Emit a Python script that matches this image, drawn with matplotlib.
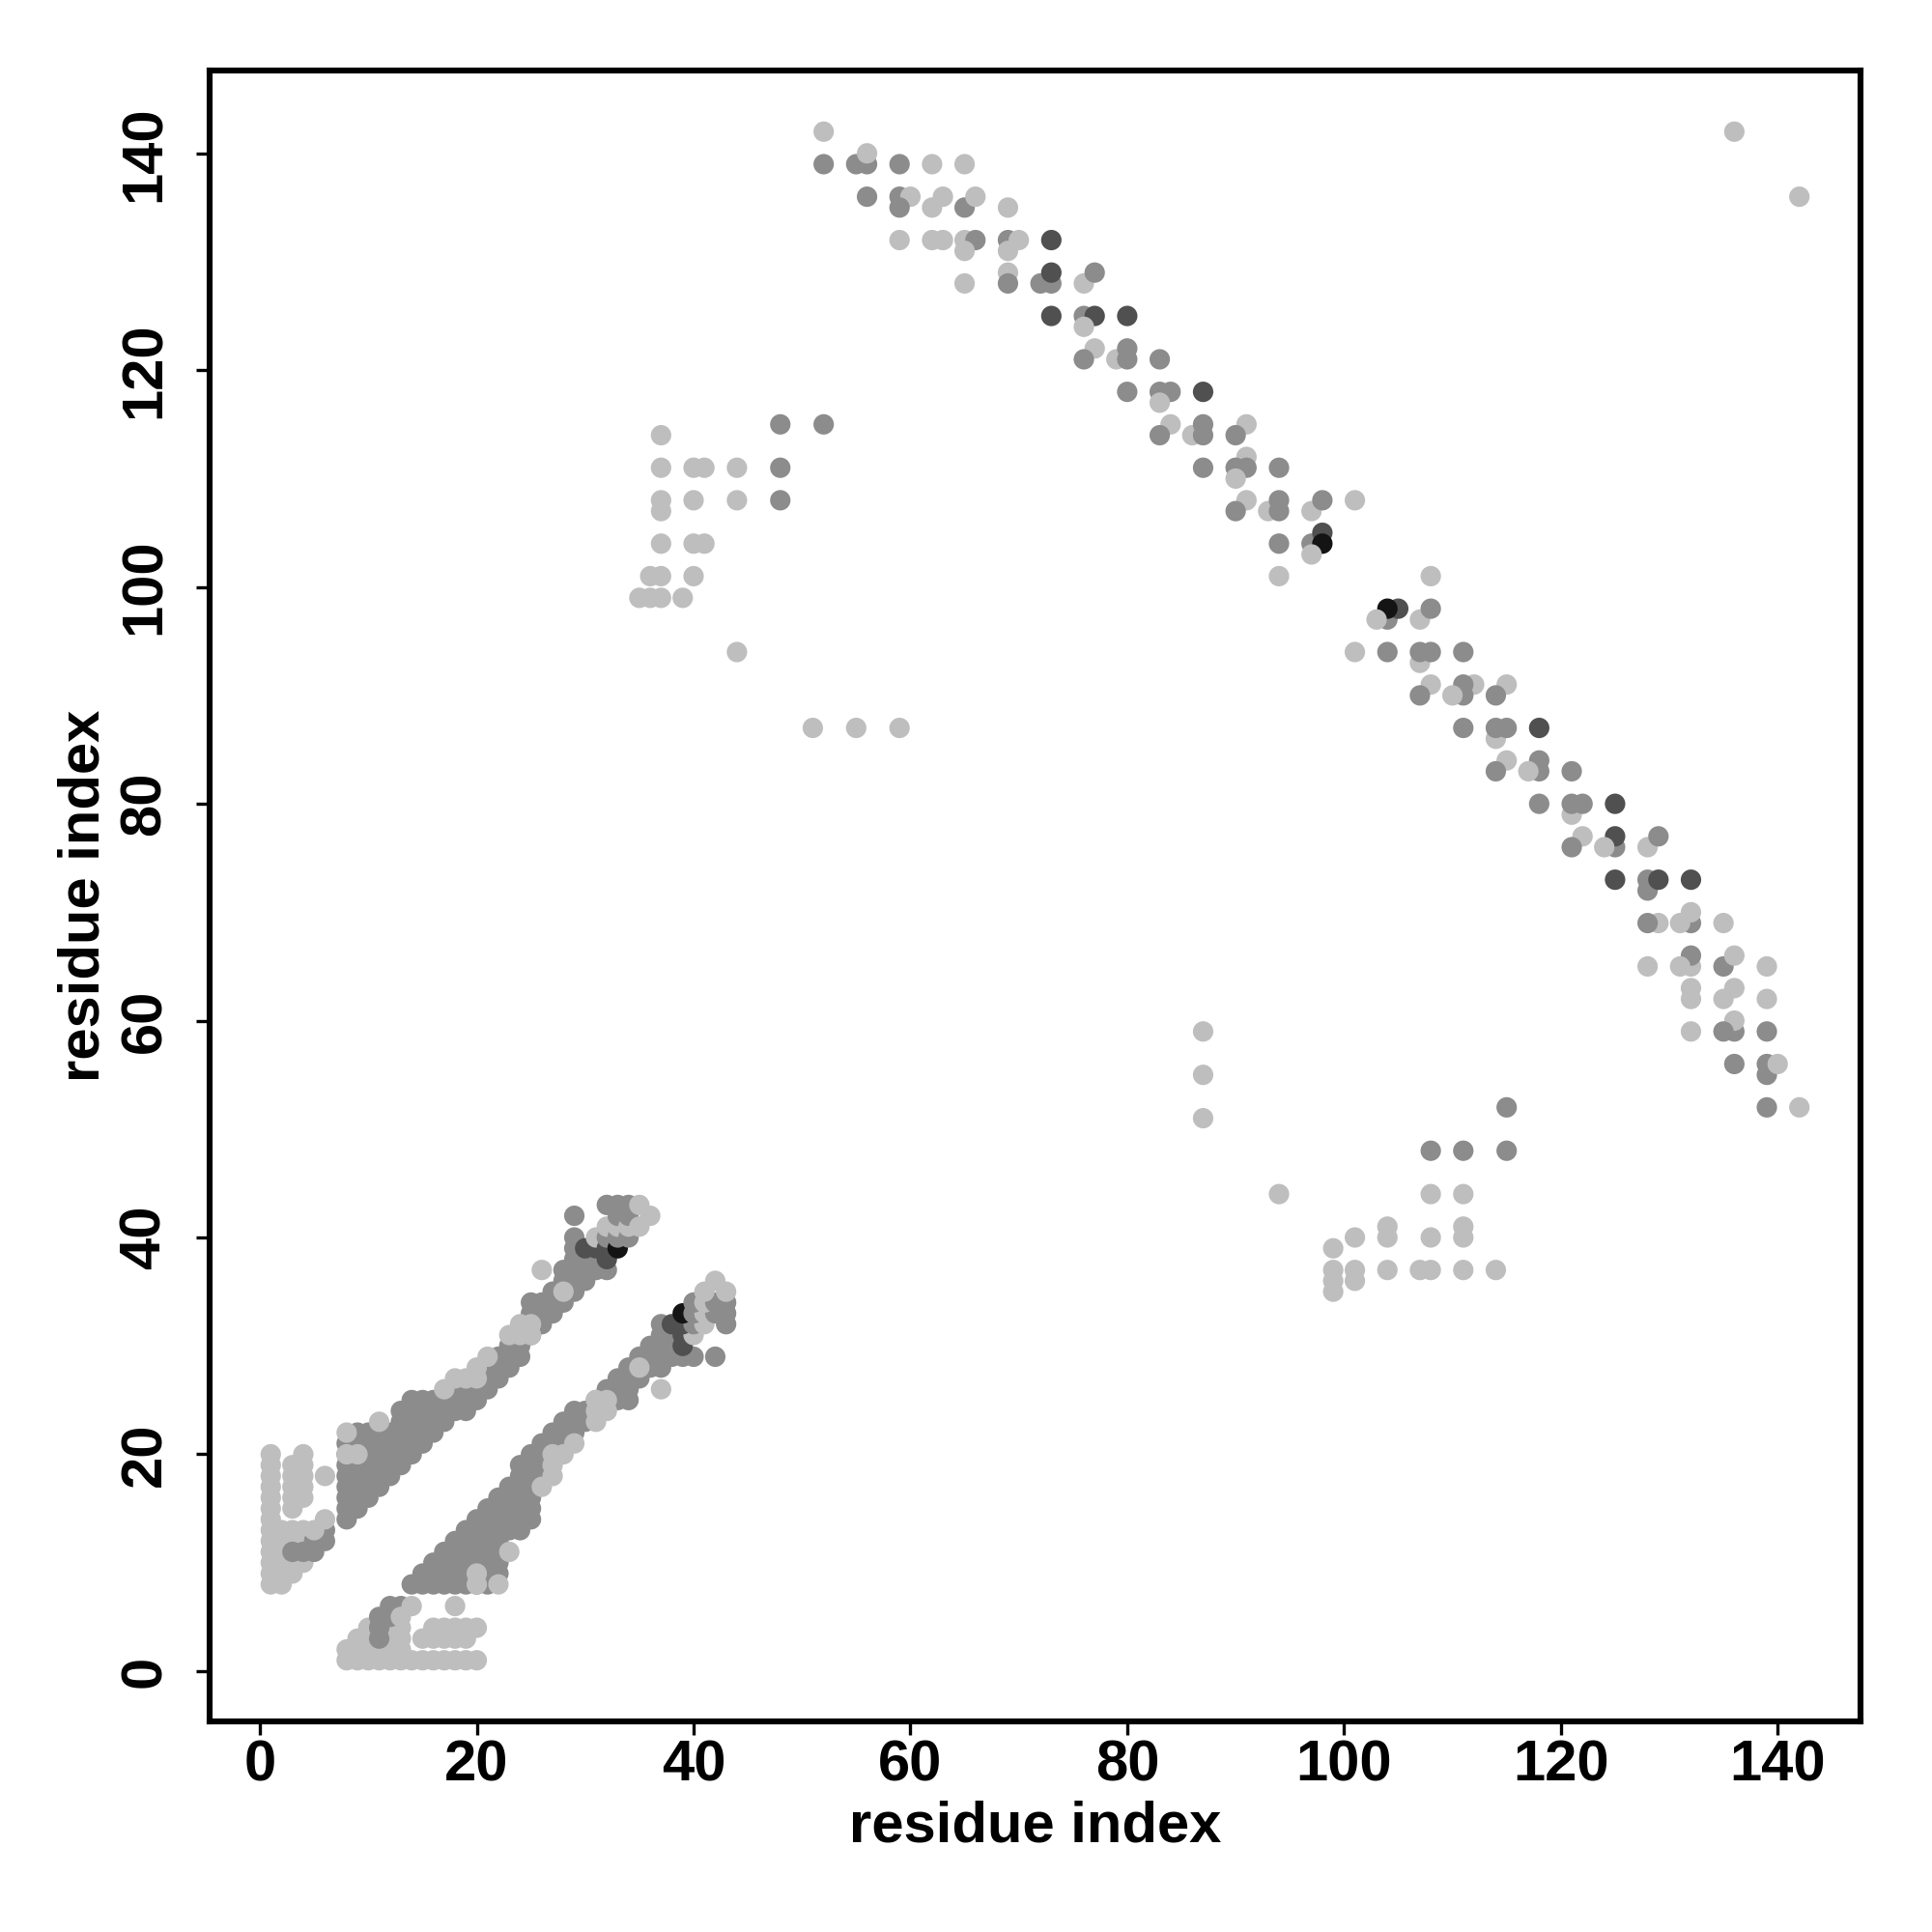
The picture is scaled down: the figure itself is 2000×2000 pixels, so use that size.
import matplotlib
matplotlib.use('Agg')
import matplotlib.pyplot as plt

plt.rcParams['font.family'] = ['Liberation Sans', 'DejaVu Sans']
plt.rcParams['font.weight'] = 'bold'

# grey level of each contact class
shades = {'L': '#bebebe', 'M': '#8c8c8c', 'D': '#505050', 'K': '#141414'}

# contact map is symmetric: contacts are listed once with i < j,
# and drawn at (i, j) and (j, i)

# runs of consecutive contacts: (i, j_from, j_to, shade)
corner_runs = [
    (1, 8, 20, 'L'), (2, 8, 13, 'L'), (3, 9, 13, 'L'), (3, 15, 19, 'L'),
    (4, 10, 13, 'L'), (4, 16, 20, 'L'),
]
band_runs = [
    (8, 14, 21, 'M'), (9, 15, 22, 'M'), (10, 16, 22, 'M'), (11, 17, 22, 'M'),
    (12, 18, 22, 'M'), (13, 19, 24, 'M'), (14, 20, 25, 'M'), (15, 21, 25, 'M'),
    (16, 22, 25, 'M'), (17, 23, 25, 'M'), (18, 24, 26, 'M'), (19, 24, 26, 'M'),
    (20, 25, 26, 'M'), (21, 26, 28, 'M'), (22, 27, 29, 'M'), (23, 28, 30, 'M'),
    (24, 29, 30, 'M'), (25, 31, 34, 'M'), (26, 32, 34, 'M'), (27, 33, 35, 'M'),
    (28, 34, 37, 'M'), (29, 35, 40, 'M'), (30, 36, 38, 'M'), (31, 37, 38, 'M'),
    (32, 37, 37, 'M'),
]

# single contacts: (i, j, shade)
corner_pts = [
    (3, 11, 'M'), (4, 11, 'M'), (5, 11, 'M'), (5, 12, 'M'), (6, 12, 'M'),
    (6, 13, 'M'), (5, 13, 'L'), (6, 14, 'L'), (6, 18, 'L'),
]
band_pts = [
    (8, 22, 'L'), (8, 20, 'L'), (9, 20, 'L'), (11, 23, 'L'),
    (17, 26, 'L'), (18, 27, 'L'), (19, 27, 'L'), (20, 27, 'L'), (20, 28, 'L'),
    (21, 29, 'L'), (23, 31, 'L'), (24, 31, 'L'), (24, 32, 'L'), (25, 31, 'L'),
    (25, 32, 'L'), (26, 37, 'L'), (28, 35, 'L'), (29, 42, 'M'),
    (30, 39, 'D'), (31, 39, 'D'), (31, 40, 'L'), (32, 38, 'D'), (32, 39, 'D'),
    (32, 40, 'M'), (32, 41, 'L'), (32, 43, 'M'), (33, 39, 'K'), (33, 40, 'M'),
    (33, 41, 'L'), (33, 42, 'M'), (33, 43, 'M'), (34, 40, 'M'), (34, 41, 'L'),
    (34, 42, 'M'), (34, 43, 'M'), (35, 41, 'L'), (35, 43, 'L'), (36, 42, 'L'),
]
mid_pts = [
    (48, 115, 'M'), (52, 115, 'M'), (37, 114, 'L'), (37, 111, 'L'), (40, 111, 'L'),
    (41, 111, 'L'), (44, 111, 'L'), (48, 111, 'M'), (37, 108, 'L'), (37, 107, 'L'),
    (40, 108, 'L'), (44, 108, 'L'), (48, 108, 'M'), (37, 104, 'L'), (40, 104, 'L'),
    (41, 104, 'L'), (36, 101, 'L'), (37, 101, 'L'), (40, 101, 'L'), (35, 99, 'L'),
    (36, 99, 'L'), (37, 99, 'L'), (39, 99, 'L'), (44, 94, 'L'),
    (51, 87, 'L'), (55, 87, 'L'), (59, 87, 'L'),
]
sheet_pts = [
    (52, 142, 'L'), (52, 139, 'M'), (55, 139, 'M'), (56, 139, 'M'), (56, 140, 'L'),
    (59, 139, 'M'), (62, 139, 'L'), (65, 139, 'L'),
    (56, 136, 'M'), (59, 136, 'M'), (60, 136, 'L'), (59, 135, 'M'), (62, 135, 'L'),
    (63, 136, 'L'), (65, 135, 'M'), (66, 136, 'L'), (69, 135, 'L'),
    (59, 132, 'L'), (62, 132, 'L'), (63, 132, 'L'), (65, 132, 'L'), (66, 132, 'M'),
    (65, 131, 'L'), (69, 132, 'M'), (70, 132, 'L'), (69, 131, 'L'), (73, 132, 'D'),
    (65, 128, 'L'), (69, 129, 'L'), (69, 128, 'M'), (72, 128, 'M'), (73, 128, 'M'),
    (73, 129, 'D'), (76, 128, 'L'), (77, 129, 'M'),
    (73, 125, 'D'), (76, 125, 'M'), (77, 125, 'D'), (76, 124, 'L'), (80, 125, 'D'),
    (77, 122, 'L'), (76, 121, 'M'), (79, 121, 'L'), (80, 122, 'M'), (80, 121, 'M'),
    (83, 121, 'M'),
    (80, 118, 'M'), (83, 118, 'M'), (84, 118, 'M'), (83, 117, 'L'), (87, 118, 'D'),
    (84, 115, 'L'), (83, 114, 'M'), (86, 114, 'L'), (87, 115, 'M'), (87, 114, 'M'),
    (91, 115, 'L'), (90, 114, 'M'),
    (87, 111, 'M'), (91, 112, 'L'), (90, 111, 'M'), (91, 111, 'M'), (90, 110, 'L'),
    (94, 111, 'M'),
    (91, 108, 'L'), (90, 107, 'M'), (93, 107, 'L'), (94, 108, 'M'), (94, 107, 'M'),
    (97, 107, 'L'), (98, 108, 'M'), (101, 108, 'L'),
    (94, 104, 'M'), (97, 104, 'M'), (98, 105, 'D'), (98, 104, 'K'), (97, 103, 'L'),
    (94, 101, 'L'),
    (136, 142, 'L'),
]

contacts = []
for i, j0, j1, s in corner_runs + band_runs:
    contacts += [(i, j, s) for j in range(j0, j1 + 1)]
contacts += corner_pts + band_pts + mid_pts + sheet_pts

xs = [c[0] for c in contacts] + [c[1] for c in contacts]
ys = [c[1] for c in contacts] + [c[0] for c in contacts]
cs = [shades[c[2]] for c in contacts] * 2

fig = plt.figure(figsize=(10, 10), dpi=200)
ax = fig.add_axes([0.1085, 0.109, 0.8545, 0.8545])
ax.scatter(xs, ys, s=58, c=cs, linewidths=0)

ax.set_xlim(-4.64, 147.64)
ax.set_ylim(-4.64, 147.64)
ax.set_xticks(range(0, 141, 20))
ax.set_yticks(range(0, 141, 20))
ax.tick_params(length=5, width=1.2, labelsize=21.5, pad=1.5)
ax.tick_params(axis='y', pad=9)
for lab in ax.get_yticklabels():
    lab.set_rotation(90)
    lab.set_va('center')
for sp in ax.spines.values():
    sp.set_linewidth(2.2)
ax.set_xlabel('residue index', fontsize=21.5, fontweight='bold', labelpad=3)
ax.set_ylabel('residue index', fontsize=21.5, fontweight='bold', labelpad=3)

fig.savefig('out.png', dpi=200)
